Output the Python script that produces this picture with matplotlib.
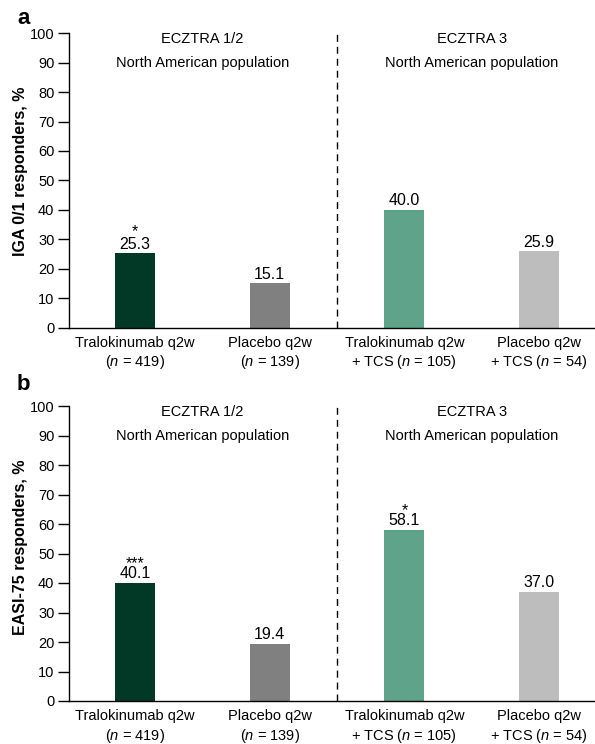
import matplotlib
matplotlib.use("Agg")
import matplotlib.pyplot as plt

plt.rcParams['font.family'] = ['Liberation Sans', 'DejaVu Sans']
plt.rcParams['mathtext.fontset'] = 'custom'
plt.rcParams['mathtext.rm'] = 'Liberation Sans'
plt.rcParams['mathtext.it'] = 'Liberation Sans:italic'

# ---- data ----
categories = [
    "Tralokinumab q2w\n($\\mathit{n}$ = 419)",
    "Placebo q2w\n($\\mathit{n}$ = 139)",
    "Tralokinumab q2w\n+ TCS ($\\mathit{n}$ = 105)",
    "Placebo q2w\n+ TCS ($\\mathit{n}$ = 54)",
]
iga_values = [25.3, 15.1, 40.0, 25.9]
easi_values = [40.1, 19.4, 58.1, 37.0]
iga_stars = ["*", "", "", ""]
easi_stars = ["***", "", "*", ""]
group_titles = ["ECZTRA 1/2\nNorth American population",
                "ECZTRA 3\nNorth American population"]
ylabels = ["IGA 0/1 responders, %", "EASI-75 responders, %"]
panel_letters = ["a", "b"]
yticks = list(range(0, 101, 10))
colors = ["#023826", "#808080", "#5fa38b", "#bdbdbd"]

W, H = 595, 744
fig = plt.figure(figsize=(W / 100, H / 100), dpi=100)

panels = [
    dict(top=33.3, bottom=327.5, values=iga_values, stars=iga_stars,
         star_ls=0.78, ylab_frac=0.532, letter_y=18),
    dict(top=406.0, bottom=701.0, values=easi_values, stars=easi_stars,
         star_ls=0.62, ylab_frac=0.52, letter_y=384),
]
left_px = 69
right_px = 595

for i, p in enumerate(panels):
    ax = fig.add_axes([left_px / W, 1 - p['bottom'] / H,
                       (right_px - left_px) / W, (p['bottom'] - p['top']) / H])
    x = list(range(len(categories)))
    ax.bar(x, p['values'], width=0.297, color=colors, zorder=2)
    ax.set_xlim(-0.49, 3.415)
    ax.set_ylim(0, 100)
    ax.set_yticks(yticks)
    ax.set_yticklabels([str(t) for t in yticks], fontsize=10.5)
    ax.set_xticks(x)
    ax.set_xticklabels(categories, fontsize=10.5, linespacing=1.25)
    ax.tick_params(axis='x', length=0, pad=6)
    ax.tick_params(axis='y', length=8, width=1, pad=2.5, direction='out')
    for s in ['top', 'right']:
        ax.spines[s].set_visible(False)
    ax.spines['left'].set_linewidth(1)
    ax.spines['bottom'].set_linewidth(1)
    ax.set_ylabel(ylabels[i], fontsize=11.5, fontweight='bold')
    ax.yaxis.set_label_coords(-(left_px - 21) / (right_px - left_px), p['ylab_frac'],
                              transform=ax.transAxes)
    ax.yaxis.label.set_va('center')

    # divider
    ax.axvline(1.5, ymin=0, ymax=1, color='black', lw=1,
               linestyle=(0, (5, 3.6)), clip_on=False)

    # group titles
    for g, t in enumerate(group_titles):
        l1, l2 = t.split("\n")
        xc = 0.5 + 2 * g
        ax.text(xc, 98.0, l1, ha='center', va='center', fontsize=10.5)
        ax.text(xc, 89.9, l2, ha='center', va='center', fontsize=10.5)

    # value labels (with significance stars on the line above)
    for xi, v, st in zip(x, p['values'], p['stars']):
        label = f"{v:.1f}" if not st else f"{st}\n{v:.1f}"
        ax.annotate(label, (xi, v), xytext=(0, 1.0), textcoords='offset points',
                    ha='center', va='bottom', fontsize=11.5,
                    linespacing=p['star_ls'], multialignment='center')

    fig.text(17 / W, 1 - p['letter_y'] / H, panel_letters[i], fontsize=16,
             fontweight='bold', ha='left', va='center')

fig.savefig("out.png", dpi=100)
